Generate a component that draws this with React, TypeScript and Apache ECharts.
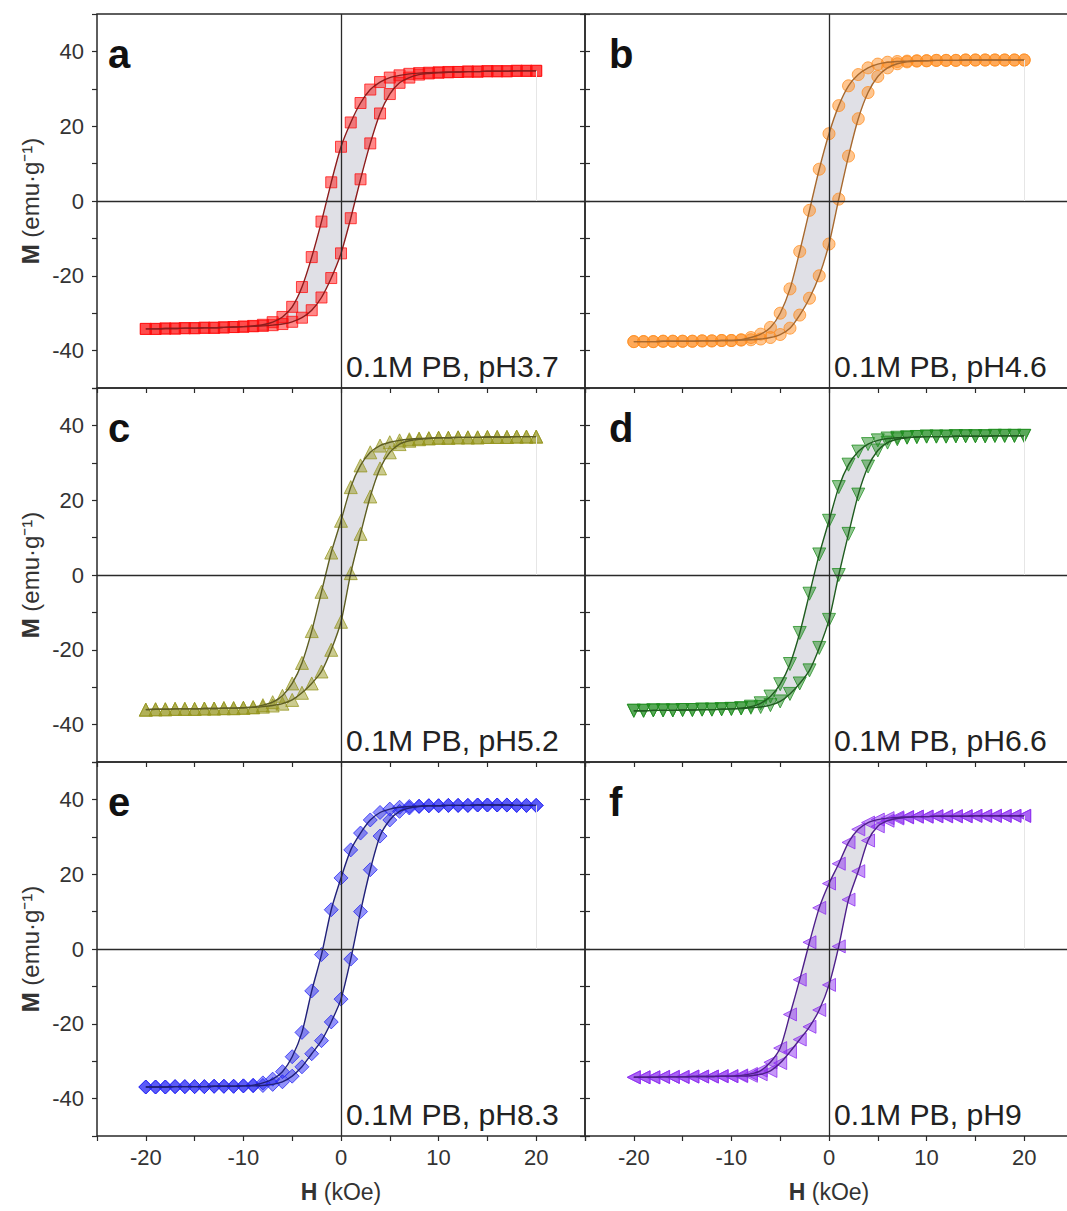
import React, { useEffect, useRef } from "react";
import * as echarts from "echarts";

// Applied field (kOe), shared by every loop
const H_FIELD = [-20, -19, -18, -17, -16, -15, -14, -13, -12, -11, -10, -9, -8, -7, -6, -5, -4, -3, -2, -1, 0, 1, 2, 3, 4, 5, 6, 7, 8, 9, 10, 11, 12, 13, 14, 15, 16, 17, 18, 19, 20];

// Magnetization (emu/g): descending branch (upper) and ascending branch (lower)
const DESC_A = [-34.2, -34.2, -34.1, -34.1, -34.0, -34.0, -33.9, -33.9, -33.8, -33.7, -33.6, -33.4, -33.1, -32.4, -31.0, -28.3, -23.0, -15.0, -5.5, 5.0, 14.5, 21.0, 26.2, 29.8, 31.8, 33.0, 33.6, 34.0, 34.2, 34.3, 34.4, 34.5, 34.5, 34.6, 34.6, 34.7, 34.7, 34.7, 34.8, 34.8, 34.8];
const ASC_A = [-34.2, -34.2, -34.1, -34.1, -34.0, -34.0, -33.9, -33.9, -33.8, -33.7, -33.6, -33.5, -33.4, -33.2, -32.9, -32.3, -31.2, -29.2, -25.8, -20.6, -14.0, -4.6, 5.8, 15.4, 23.4, 28.6, 31.6, 33.0, 33.8, 34.1, 34.3, 34.4, 34.5, 34.6, 34.6, 34.7, 34.7, 34.7, 34.8, 34.8, 34.8];

const DESC_B = [-37.6, -37.6, -37.6, -37.5, -37.5, -37.5, -37.5, -37.4, -37.4, -37.3, -37.3, -37.1, -36.5, -35.6, -33.8, -30.0, -23.5, -13.5, -2.5, 8.5, 18.0, 25.5, 30.8, 33.8, 35.6, 36.6, 37.1, 37.3, 37.4, 37.5, 37.5, 37.6, 37.6, 37.6, 37.7, 37.7, 37.7, 37.7, 37.7, 37.7, 37.7];
const ASC_B = [-37.6, -37.6, -37.6, -37.5, -37.5, -37.5, -37.5, -37.4, -37.4, -37.3, -37.3, -37.2, -37.1, -36.9, -36.5, -35.7, -34.0, -30.5, -26.0, -20.0, -11.5, 0.5, 12.0, 22.0, 29.0, 33.3, 35.6, 36.7, 37.2, 37.4, 37.5, 37.6, 37.6, 37.6, 37.7, 37.7, 37.7, 37.7, 37.7, 37.7, 37.7];

const DESC_C = [-36.0, -35.9, -35.9, -35.8, -35.8, -35.8, -35.7, -35.7, -35.6, -35.6, -35.5, -35.3, -34.8, -34.0, -32.3, -29.0, -23.5, -15.0, -4.5, 6.0, 14.5, 23.5, 29.3, 32.8, 34.6, 35.5, 36.0, 36.3, 36.5, 36.6, 36.7, 36.7, 36.8, 36.8, 36.8, 36.9, 36.9, 36.9, 37.0, 37.0, 37.0];
const ASC_C = [-36.0, -35.9, -35.9, -35.8, -35.8, -35.8, -35.7, -35.7, -35.6, -35.6, -35.5, -35.4, -35.2, -34.9, -34.4, -33.4, -31.5, -29.0, -25.8, -20.0, -12.5, 0.5, 11.0, 21.0, 28.5, 32.8, 35.0, 35.9, 36.3, 36.5, 36.7, 36.7, 36.8, 36.8, 36.8, 36.9, 36.9, 36.9, 37.0, 37.0, 37.0];

const DESC_D = [-36.3, -36.3, -36.2, -36.2, -36.2, -36.1, -36.1, -36.0, -36.0, -35.9, -35.8, -35.6, -35.2, -34.3, -32.5, -29.2, -23.8, -15.5, -5.0, 5.5, 14.5, 23.5, 29.5, 33.0, 35.0, 36.0, 36.5, 36.7, 36.8, 36.9, 37.0, 37.0, 37.0, 37.1, 37.1, 37.1, 37.1, 37.2, 37.2, 37.2, 37.2];
const ASC_D = [-36.3, -36.3, -36.2, -36.2, -36.2, -36.1, -36.1, -36.0, -36.0, -35.9, -35.8, -35.7, -35.5, -35.3, -34.8, -33.8, -31.8, -29.0, -25.5, -19.5, -12.0, 0.0, 11.0, 21.5, 29.0, 33.3, 35.4, 36.3, 36.7, 36.9, 37.0, 37.0, 37.0, 37.1, 37.1, 37.1, 37.1, 37.2, 37.2, 37.2, 37.2];

const DESC_E = [-36.9, -36.9, -36.9, -36.8, -36.8, -36.8, -36.8, -36.7, -36.7, -36.7, -36.6, -36.4, -35.8, -34.8, -32.8, -28.8, -22.3, -11.2, -1.5, 10.5, 19.0, 26.5, 31.0, 34.5, 36.5, 37.4, 37.9, 38.1, 38.2, 38.3, 38.3, 38.4, 38.4, 38.4, 38.5, 38.5, 38.5, 38.5, 38.4, 38.4, 38.4];
const ASC_E = [-36.9, -36.9, -36.9, -36.8, -36.8, -36.8, -36.8, -36.7, -36.7, -36.7, -36.6, -36.6, -36.5, -36.2, -35.5, -34.0, -31.5, -28.0, -24.5, -19.5, -13.4, -2.7, 10.0, 21.2, 30.2, 34.5, 36.8, 37.7, 38.1, 38.3, 38.3, 38.4, 38.4, 38.4, 38.5, 38.5, 38.5, 38.5, 38.4, 38.4, 38.4];

const DESC_F = [-34.3, -34.3, -34.3, -34.2, -34.2, -34.2, -34.1, -34.1, -34.1, -34.0, -34.0, -33.8, -33.4, -32.5, -30.3, -26.5, -17.5, -8.2, 1.8, 11.0, 17.5, 22.8, 28.5, 32.0, 33.8, 34.6, 35.0, 35.2, 35.3, 35.4, 35.4, 35.5, 35.5, 35.5, 35.5, 35.6, 35.6, 35.6, 35.6, 35.6, 35.6];
const ASC_F = [-34.3, -34.3, -34.3, -34.2, -34.2, -34.2, -34.1, -34.1, -34.1, -34.0, -34.0, -34.0, -33.9, -33.5, -32.6, -30.5, -27.5, -24.2, -20.8, -16.3, -9.6, 0.7, 13.2, 20.8, 29.0, 32.8, 34.3, 34.9, 35.2, 35.4, 35.4, 35.5, 35.5, 35.5, 35.5, 35.6, 35.6, 35.6, 35.6, 35.6, 35.6];

const DESC = [DESC_A, DESC_B, DESC_C, DESC_D, DESC_E, DESC_F];
const ASC = [ASC_A, ASC_B, ASC_C, ASC_D, ASC_E, ASC_F];
const LETTERS = ["a", "b", "c", "d", "e", "f"];
const CONDITIONS = ["0.1M PB, pH3.7", "0.1M PB, pH4.6", "0.1M PB, pH5.2", "0.1M PB, pH6.6", "0.1M PB, pH8.3", "0.1M PB, pH9"];
const X_TICK_LABELS = [-20, -10, 0, 10, 20];
const Y_TICK_LABELS = [-40, -20, 0, 20, 40];

// ---- styles & layout ----
const FONT = "'Liberation Sans', Arial, Helvetica, sans-serif";
const STYLES = [
  { symbol: "rect", rotate: 0, size: 11, rgb: "255,15,15", line: "#8e1c1c" },
  { symbol: "circle", rotate: 0, size: 12, rgb: "255,140,30", line: "#a8692e" },
  { symbol: "triangle", rotate: 0, size: 13, rgb: "150,150,30", line: "#5e5e22" },
  { symbol: "triangle", rotate: 180, size: 13, rgb: "30,140,30", line: "#1f5c1f" },
  { symbol: "diamond", rotate: 0, size: 14, rgb: "35,35,245", line: "#20207a" },
  { symbol: "triangle", rotate: 90, size: 13, rgb: "140,45,240", line: "#4e1f8a" },
];
const COL_LEFT = [97, 585];
const ROW_TOP = [14, 388, 762];
const PW = 488;
const PH = 374;
const FILL = "#e0e0e6";
const TXT = "#333";

function buildOption() {
  const grid: any[] = [];
  const xAxis: any[] = [];
  const yAxis: any[] = [];
  const series: any[] = [];
  const graphic: any[] = [];

  for (let i = 0; i < 6; i++) {
    const r = Math.floor(i / 2);
    const c = i % 2;
    const left = COL_LEFT[c];
    const top = ROW_TOP[r];
    const st = STYLES[i];
    const desc = DESC[i];
    const asc = ASC[i];

    grid.push({
      left, top, width: PW, height: PH, show: true, borderColor: "#2a2a2a", borderWidth: 1.5,
      backgroundColor: "transparent", containLabel: false, outerBoundsMode: "none",
    });

    xAxis.push({
      type: "value", gridIndex: i, min: -25, max: 25, interval: 5,
      axisLine: { show: false, onZero: false },
      axisTick: { show: true, length: 5, lineStyle: { color: "#2a2a2a", width: 1.2 } },
      axisLabel: {
        show: r === 2, margin: 10, fontSize: 22, color: TXT, fontFamily: FONT,
        formatter: (v: number) => (X_TICK_LABELS.includes(v) ? String(v) : ""),
      },
      splitLine: { show: false },
      name: r === 2 ? "{b|H} (kOe)" : "",
      nameLocation: "middle", nameGap: 44,
      nameTextStyle: { fontSize: 23, color: TXT, fontFamily: FONT, rich: { b: { fontSize: 23, fontWeight: "bold", color: TXT, fontFamily: FONT } } },
    });

    const yIdx = yAxis.length;
    yAxis.push({
      type: "value", gridIndex: i, min: -50, max: 50, interval: 10, position: "left",
      axisLine: { show: false, onZero: false },
      axisTick: { show: true, length: 5, lineStyle: { color: "#2a2a2a", width: 1.2 } },
      axisLabel: {
        show: c === 0, margin: 13, fontSize: 22, color: TXT, fontFamily: FONT,
        formatter: (v: number) => (Y_TICK_LABELS.includes(v) ? String(v) : ""),
      },
      splitLine: { show: false },
      name: c === 0 ? "{b|M} (emu·g⁻¹)" : "",
      nameLocation: "middle", nameGap: 55,
      nameTextStyle: { fontSize: 24, color: TXT, fontFamily: FONT, rich: { b: { fontSize: 24, fontWeight: "bold", color: TXT, fontFamily: FONT } } },
    });
    if (c === 0) {
      yAxis.push({
        type: "value", gridIndex: i, min: -50, max: 50, interval: 10, position: "right",
        axisLine: { show: false, onZero: false },
        axisTick: { show: true, length: 5, lineStyle: { color: "#2a2a2a", width: 1.2 } },
        axisLabel: { show: false },
        splitLine: { show: false },
      });
    }

    // gray area enclosed by the loop
    series.push({
      type: "custom", xAxisIndex: i, yAxisIndex: yIdx, silent: true, z: 1,
      data: [[0, 0]],
      renderItem: (_p: any, api: any) => {
        const pts: number[][] = [];
        for (let k = 0; k < H_FIELD.length; k++) pts.push(api.coord([H_FIELD[k], desc[k]]));
        for (let k = H_FIELD.length - 1; k >= 0; k--) pts.push(api.coord([H_FIELD[k], asc[k]]));
        return { type: "polygon", shape: { points: pts }, style: { fill: FILL, stroke: "none" } };
      },
    });

    const markerStyle = {
      color: `rgba(${st.rgb},0.62)`,
      borderColor: `rgba(${st.rgb},0.95)`,
      borderWidth: 1,
    };
    [desc, asc].forEach((branch) => {
      series.push({
        type: "scatter", xAxisIndex: i, yAxisIndex: yIdx, z: 3, silent: true,
        symbol: st.symbol, symbolSize: st.size, symbolRotate: st.rotate,
        itemStyle: markerStyle,
        data: H_FIELD.map((h, k) => [h, branch[k]]),
      });
    });
    [desc, asc].forEach((branch, bi) => {
      series.push({
        type: "line", xAxisIndex: i, yAxisIndex: yIdx, z: 4, silent: true,
        showSymbol: false, smooth: 0.25,
        lineStyle: { color: st.line, width: 1.4 },
        data: H_FIELD.map((h, k) => [h, branch[k]]),
        markLine: bi === 0 ? {
          silent: true, symbol: "none", label: { show: false },
          lineStyle: { color: "#2a2a2a", width: 1.3, type: "solid" },
          data: [
            { xAxis: 0 },
            { yAxis: 0 },
            [
              { coord: [20, 0], lineStyle: { color: "#e6e6e6", width: 1, type: "solid" } },
              { coord: [20, desc[desc.length - 1]] },
            ],
          ],
        } : undefined,
      });
    });

    // panel letter
    graphic.push({
      type: "text", x: left + (c === 0 ? 11 : 24), y: top + 60, z: 20,
      style: { text: LETTERS[i], font: `bold 40px ${FONT}`, fill: "#111", align: "left", textAlign: "left", verticalAlign: "bottom", textVerticalAlign: "bottom" },
    });
    // condition label
    graphic.push({
      type: "text", x: left + PW / 2 + 5, y: top + PH - 7, z: 20, scaleX: 1.04,
      style: { text: CONDITIONS[i], font: `29px ${FONT}`, fill: "#222", align: "left", textAlign: "left", verticalAlign: "bottom", textVerticalAlign: "bottom" },
    });
  }

  return {
    animation: false,
    backgroundColor: "#ffffff",
    grid, xAxis, yAxis, series, graphic,
  };
}

export default function App() {
  const ref = useRef<HTMLDivElement>(null);
  useEffect(() => {
    const chart = echarts.init(ref.current as HTMLDivElement, null, { renderer: "svg" });
    chart.setOption(buildOption() as any);
    return () => chart.dispose();
  }, []);
  return (
    <div
      ref={ref}
      style={{ position: "absolute", left: 0, top: 0, width: 1067, height: 1211, background: "#fff" }}
    />
  );
}
